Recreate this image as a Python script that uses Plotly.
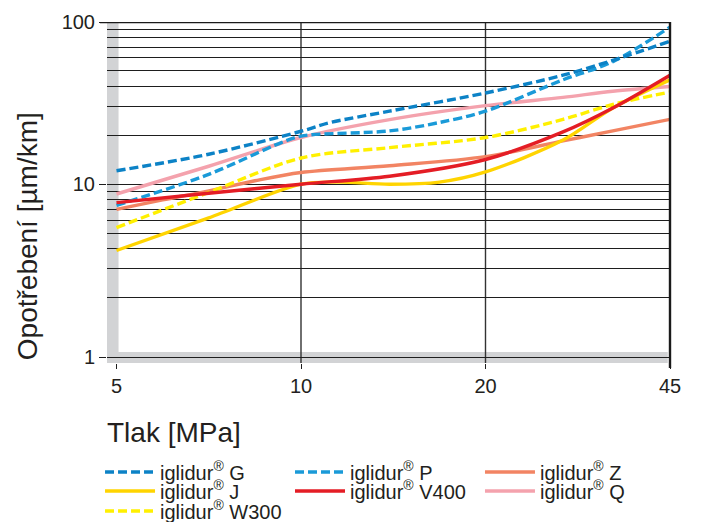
import plotly.graph_objects as go

# ---------------- data ----------------
pressure_labels = ["5", "10", "20", "45"]          # MPa, equally spaced on the chart
pressure_pos = [0, 1, 2, 3]

# positions along the (equally spaced) pressure axis and wear values [µm/km]
g_x = [0, 0.5, 1.0, 1.16, 1.48, 2.0, 2.42, 2.69, 3.0]
g_y = [12.1, 15.3, 21.2, 24.0, 28.2, 36.5, 47.0, 58.0, 76.0]

p_x = [0, 0.5, 0.89, 1.0, 1.48, 1.75, 2.0, 2.42, 2.69, 3.0]
p_y = [7.4, 11.5, 18.0, 19.8, 21.3, 24.0, 28.2, 44.0, 57.0, 93.0]

z_x = [0, 0.25, 0.5, 0.75, 1.0, 1.48, 2.0, 2.42, 2.69, 3.0]
z_y = [7.0, 8.0, 9.1, 10.5, 11.8, 13.0, 14.8, 18.5, 21.3, 25.1]

j_x = [0, 0.5, 1.0, 1.2, 1.48, 1.75, 2.0, 2.42, 2.69, 3.0]
j_y = [3.9, 6.2, 10.0, 10.3, 10.0, 10.3, 11.9, 18.7, 29.5, 44.0]

v400_x = [0, 0.5, 1.0, 1.48, 2.0, 2.42, 2.69, 3.0]
v400_y = [7.7, 8.8, 10.0, 11.2, 14.2, 21.0, 29.5, 47.0]

q_x = [0, 0.5, 1.0, 1.48, 2.0, 2.42, 2.69, 3.0]
q_y = [8.7, 12.9, 19.4, 25.0, 30.5, 34.3, 37.4, 40.0]

w300_x = [0, 0.5, 1.0, 1.48, 2.0, 2.42, 2.69, 3.0]
w300_y = [5.4, 8.9, 14.5, 16.8, 19.4, 25.1, 31.0, 37.0]

y_tick_labels = ["1", "10", "100"]
minor_grid = [2, 3, 4, 5, 6, 7, 8, 9, 20, 30, 40, 50, 60, 70, 80, 90]

# ---------------- style ----------------
FONT = "Liberation Sans, Arial, Helvetica, sans-serif"
TXT = "#231f20"
GRAY = "#d2d3d5"
GRID = "#1e1e1e"
DASH = "9px,4px"
LW = 3.4

# legend grid (column, row) of each entry
LEG_COLS = [0.1427, 0.4137, 0.6847]
LEG_ROWS = [0.0958, 0.0594, 0.0211]

series = [
    # name, x, y, color, dash, (col,row)
    ("Q", q_x, q_y, "#f4a2ad", "solid", (2, 1)),
    ("Z", z_x, z_y, "#f28463", "solid", (2, 0)),
    ("W300", w300_x, w300_y, "#fff000", DASH, (0, 2)),
    ("J", j_x, j_y, "#ffd400", "solid", (0, 1)),
    ("P", p_x, p_y, "#1a9ad8", DASH, (1, 0)),
    ("G", g_x, g_y, "#0c82c6", DASH, (0, 0)),
    ("V400", v400_x, v400_y, "#e41d25", "solid", (1, 1)),
]

fig = go.Figure()
legends = {}
for i, (name, xs, ys, col, dash, (c, r)) in enumerate(series):
    leg = "legend" if i == 0 else f"legend{i + 1}"
    fig.add_trace(go.Scatter(
        x=xs, y=ys, mode="lines",
        name="iglidur<sup>®</sup> " + name,
        line=dict(color=col, width=LW, dash=dash, shape="spline", smoothing=0.9),
        legend=leg, hoverinfo="skip",
    ))
    legends[leg] = dict(orientation="h", xref="container", yref="container",
                        x=LEG_COLS[c], y=LEG_ROWS[r], xanchor="left", yanchor="middle",
                        font=dict(family=FONT, size=20, color=TXT),
                        bgcolor="rgba(0,0,0,0)", itemwidth=50)

# ---------------- axes geometry ----------------
X_LEFT = -0.0515           # room for the grey band left of "5"
Y_BOTTOM_LOG = -0.1025     # room for the grey band under the bottom gridline
ONE_LABEL_POS = 10 ** -0.0656

fig.update_xaxes(
    range=[X_LEFT, 3], tickvals=pressure_pos, ticktext=pressure_labels,
    showgrid=False, zeroline=False, showline=False, automargin=False,
    ticks="outside", ticklen=5, tickwidth=1.3, tickcolor=GRID,
    tickfont=dict(family=FONT, size=20, color=TXT),
)
fig.update_yaxes(
    type="log", range=[Y_BOTTOM_LOG, 2],
    tickvals=[ONE_LABEL_POS, 10, 100], ticktext=y_tick_labels,
    showgrid=True, gridcolor=GRID, gridwidth=1.3,
    minor=dict(tickvals=minor_grid, showgrid=True, gridcolor=GRID, gridwidth=1.3, ticks=""),
    zeroline=False, showline=False, automargin=False,
    ticks="outside", ticklen=7, tickwidth=1.3, tickcolor=GRID,
    tickfont=dict(family=FONT, size=20, color=TXT),
)

shapes = [
    # grey bands (between gridlines and traces)
    dict(type="rect", xref="paper", yref="paper", x0=0, x1=0.0205, y0=0, y1=1,
         fillcolor=GRAY, line=dict(width=0), layer="between"),
    dict(type="rect", xref="paper", yref="paper", x0=0, x1=0.996, y0=0, y1=0.032,
         fillcolor=GRAY, line=dict(width=0), layer="between"),
    # vertical gridlines at 10 and 20 MPa
    dict(type="line", xref="x", yref="paper", x0=1, x1=1, y0=0, y1=1,
         line=dict(color="#333333", width=1.4), layer="between"),
    dict(type="line", xref="x", yref="paper", x0=2, x1=2, y0=0, y1=1,
         line=dict(color="#333333", width=1.4), layer="between"),
    # top frame line at 100 and right frame line
    dict(type="line", xref="paper", yref="y", x0=-0.0124, x1=1, y0=100, y1=100,
         line=dict(color="#1a1a1a", width=2.4), layer="above"),
    dict(type="line", xref="paper", yref="paper", x0=1, x1=1, y0=-0.0146, y1=1,
         line=dict(color="#1a1a1a", width=2.4), layer="above"),
]

fig.update_layout(
    width=701, height=522,
    margin=dict(l=107, r=31, t=22, b=159, autoexpand=False),
    paper_bgcolor="white", plot_bgcolor="white",
    font=dict(family=FONT, color=TXT),
    shapes=shapes,
    showlegend=True,
    annotations=[
        dict(text="Opotřebení [µm/km]", xref="paper", yref="paper", x=-0.142, y=0.372,
             xanchor="center", yanchor="middle", textangle=-90, showarrow=False,
             font=dict(family=FONT, size=28, color=TXT)),
        dict(text="Tlak [MPa]", xref="paper", yref="paper", x=-0.0036, y=-0.205,
             xanchor="left", yanchor="middle", showarrow=False,
             font=dict(family=FONT, size=28, color=TXT)),
    ],
    **legends,
)

fig.write_html("out.html")
